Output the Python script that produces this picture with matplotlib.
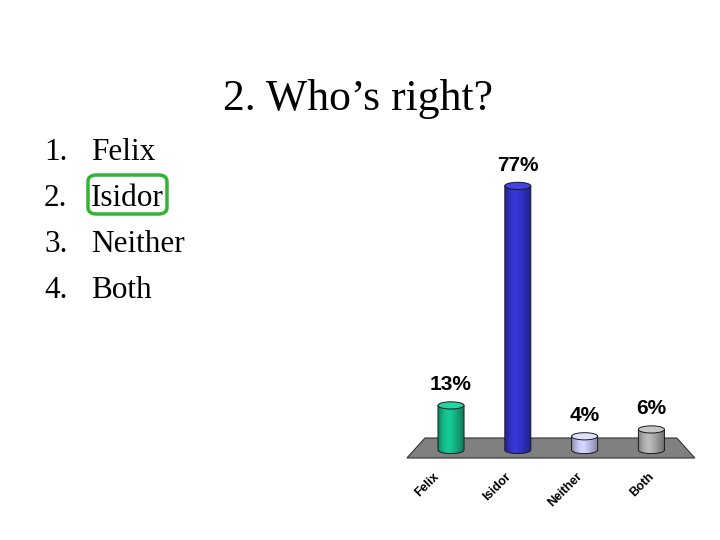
import numpy as np
import matplotlib
matplotlib.use('Agg')
import matplotlib.pyplot as plt
from matplotlib.patches import Polygon, Ellipse, PathPatch, FancyBboxPatch
from matplotlib.path import Path
from matplotlib.colors import to_rgb

# data
categories = ['Felix', 'Isidor', 'Neither', 'Both']
values = [13, 77, 4, 6]
value_labels = ['13%', '77%', '4%', '6%']
bar_colors = ['#14b98a', '#3232c8', '#c4c4f2', '#ababab']
options = ['Felix', 'Isidor', 'Neither', 'Both']

serif = 'Liberation Serif'
sans = 'Liberation Sans'

fig = plt.figure(figsize=(7.2, 5.4), dpi=100)
fig.patch.set_facecolor('white')

# slide title and answer list
fig.text(0.497, 1 - 99 / 540, '2. Who\u2019s right?', family=serif, fontsize=31.5,
         ha='center', va='center')
for i, opt in enumerate(options):
    yy = 1 - (153 + 46 * i) / 540
    fig.text(44 / 720, yy, f'{i + 1}.', family=serif, fontsize=22.5, ha='left', va='center')
    fig.text(91 / 720, yy, opt, family=serif, fontsize=22.5, ha='left', va='center')

# green box round the right answer
box = FancyBboxPatch((88 / 720, 1 - 214 / 540), 79 / 720, 39 / 540,
                     boxstyle='round,pad=0,rounding_size=0.012',
                     transform=fig.transFigure, fill=False,
                     edgecolor='#2fb52f', linewidth=2.5)
fig.patches.append(box)

# chart
ax = fig.add_axes([400 / 720, 1 - 510 / 540, 300 / 720, 360 / 540])
ax.set_axis_off()
xlim = (-0.7635, 3.7275)
ylim = (-17.49, 87.46)

floor = Polygon([(-0.66, -2.33), (-0.39, 3.5), (3.38, 3.5), (3.65, -2.33)],
                closed=True, facecolor='#808080', edgecolor='#333333', linewidth=0.8)
ax.add_patch(floor)

hw = 0.195
eh = 1.05
shade = np.array([0.72, 0.85, 0.97, 1.05, 1.1, 1.08, 1.02, 0.95, 0.87, 0.8, 0.72, 0.66])


def cylinder(x, h, color):
    base = np.array(to_rgb(color))
    x0, x1 = x - hw, x + hw
    t = np.linspace(np.pi, 2 * np.pi, 40)
    verts = [(x0, h)] + list(zip(x + hw * np.cos(t), eh * np.sin(t))) + [(x1, h), (x0, h)]
    codes = [Path.MOVETO] + [Path.LINETO] * (len(verts) - 2) + [Path.CLOSEPOLY]
    body = PathPatch(Path(verts, codes), facecolor='none', edgecolor='#1a1a1a', linewidth=0.7, zorder=3)
    ax.add_patch(body)
    prof = np.interp(np.linspace(0, 1, 64), np.linspace(0, 1, len(shade)), shade)
    img = np.clip(base[None, None, :] * prof[None, :, None], 0, 1)
    im = ax.imshow(img, extent=(x0, x1, -eh, h), aspect='auto', zorder=2, interpolation='bilinear')
    im.set_clip_path(body)
    top = np.clip(base * 1.08 + 0.05, 0, 1)
    ax.add_patch(Ellipse((x, h), 2 * hw, 2 * eh, facecolor=top, edgecolor='#1a1a1a',
                         linewidth=0.7, zorder=4))


for i, (v, c) in enumerate(zip(values, bar_colors)):
    cylinder(i, v, c)
    ax.text(i, v + 6, value_labels[i], family=sans, fontsize=15, fontweight='bold',
            ha='center', va='center')
    # labels sit on the slanted floor, so they drift right along the row
    ax.text(i * 1.07 - 0.14, -5.9, categories[i], family=sans, fontsize=9, fontweight='bold',
            rotation=45, ha='right', va='top')

ax.set_xlim(*xlim)
ax.set_ylim(*ylim)

fig.savefig('out.png', dpi=100)
